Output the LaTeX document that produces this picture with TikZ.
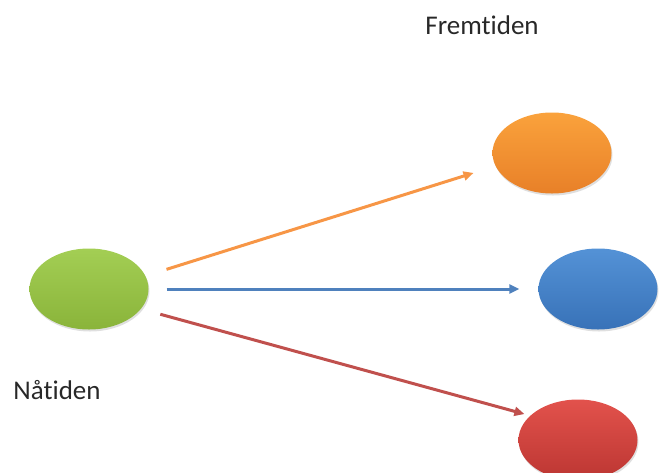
\documentclass[tikz,border=0pt]{standalone}
\usepackage{fontspec}
\setmainfont{Carlito}[Ligatures=CommonOff]
\usetikzlibrary{shapes.geometric,arrows.meta,shadows}
\definecolor{nowtop}{RGB}{163,206,84}
\definecolor{nowbot}{RGB}{138,180,58}
\definecolor{orangetop}{RGB}{250,162,60}
\definecolor{orangebot}{RGB}{232,128,40}
\definecolor{bluetop}{RGB}{84,146,214}
\definecolor{bluebot}{RGB}{56,114,184}
\definecolor{redtop}{RGB}{226,82,76}
\definecolor{redbot}{RGB}{188,54,50}
\definecolor{orangeline}{RGB}{247,150,70}
\definecolor{blueline}{RGB}{79,129,189}
\definecolor{redline}{RGB}{192,80,77}
\definecolor{labeltext}{RGB}{40,40,40}
\begin{document}
\begin{tikzpicture}[x=1pt,y=-1pt,
            blob/.style={ellipse,minimum width=119pt,minimum height=81pt,inner sep=0pt,
              draw=none,drop shadow={opacity=0.25,shadow xshift=1pt,shadow yshift=-2pt}},
            timelabel/.style={text=labeltext,font=\fontsize{27}{32}\selectfont},
            path/.style={line width=3pt,-{Triangle[length=10pt,width=9pt]}}]
            \useasboundingbox (0,0) rectangle (662,472);
            \clip (0,0) rectangle (662,472);
            \node[blob,top color=nowtop,bottom color=nowbot] (now) at (89,289) {};
            \node[blob,top color=orangetop,bottom color=orangebot] (future1) at (552,153) {};
            \node[blob,top color=bluetop,bottom color=bluebot] (future2) at (598,289) {};
            \node[blob,top color=redtop,bottom color=redbot] (future3) at (578,440) {};
            \node[timelabel] (fremtiden) at (482,25) {Fremtiden};
            \node[timelabel] (natiden) at (57,390) {Nåtiden};
            \draw[path,orangeline,shorten <=22pt,shorten >=23pt] (now.13) -- (future1.193.5);
            \draw[path,blueline,shorten <=18pt,shorten >=19pt] (now.east) -- (future2.west);
            \draw[path,redline,shorten <=20pt,shorten >=6pt] (now.-21) -- (future3.153);
\end{tikzpicture}
\end{document}
